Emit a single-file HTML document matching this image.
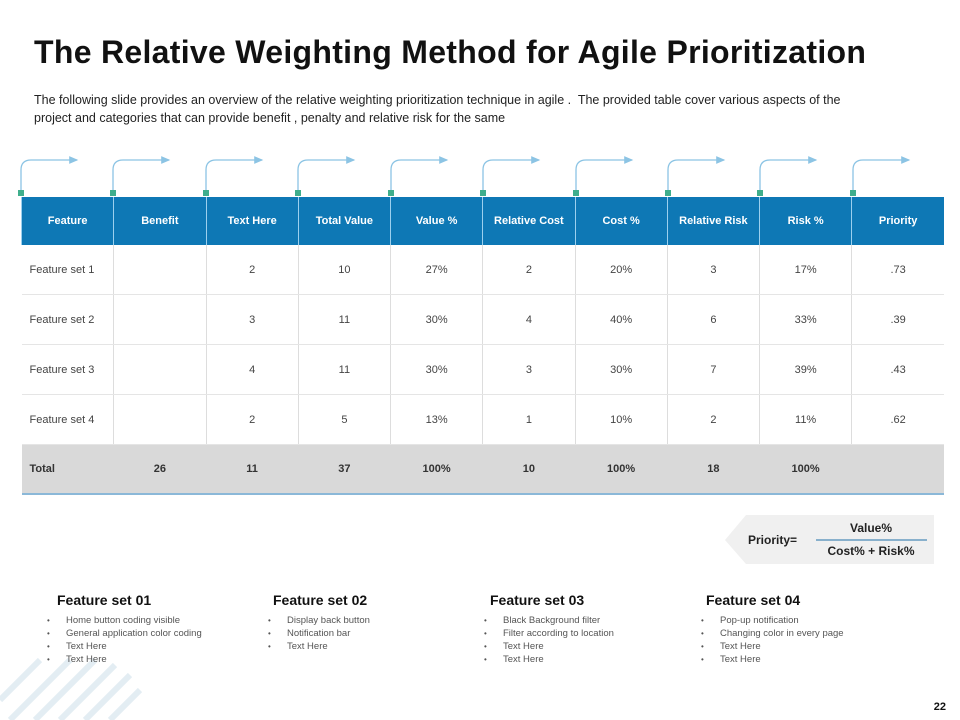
<!DOCTYPE html>
<html><head><style>
body{margin:0;width:960px;height:720px;background:#fff;position:relative;overflow:hidden;font-family:"Liberation Sans",sans-serif;}
.t{position:absolute;left:34px;top:34px;font-size:32px;font-weight:bold;color:#111;letter-spacing:0.3px;}
.s{position:absolute;left:34px;top:91px;font-size:12.5px;line-height:18px;color:#222;width:880px;}
table{position:absolute;left:21px;top:197px;border-collapse:collapse;width:923px;table-layout:fixed;}
td{text-align:center;font-size:11px;color:#444;border-left:1px solid #ddd;border-bottom:1px solid #e5e5e5;padding:0;}
tr.h td{background:#0e78b5;color:#fff;font-weight:bold;height:48px;border-left:1px solid #9cd0ee;border-bottom:none;}
tr.r td{height:49px;}
tr.r td:first-child{text-align:left;padding-left:8px;}
tr.tot td{background:#d9d9d9;font-weight:bold;color:#333;height:48px;border-left:none;border-bottom:2px solid #8bb8d8;}
tr.tot td:first-child{text-align:left;padding-left:8px;}
td:first-child{border-left:none}
.fs{position:absolute;top:592px;font-size:14px;font-weight:bold;color:#111;}
.ul{position:absolute;top:614px;font-size:9.5px;line-height:13px;color:#555;margin:0;padding:0;list-style:none;}
.ul li:before{content:"•";position:absolute;left:-19px;font-size:8px;}
.ul li{position:relative}
</style></head><body>
<div class="t">The Relative Weighting Method for Agile Prioritization</div>
<div class="s">The following slide provides an overview of the relative weighting prioritization technique in agile .&nbsp; The provided table cover various aspects of the<br>project and categories that can provide benefit , penalty and relative risk for the same</div>
<svg width="960" height="720" style="position:absolute;left:0;top:0">
<defs><marker id="a" markerWidth="8" markerHeight="8" refX="6" refY="3" orient="auto"><path d="M0,0L7,3L0,6z" fill="#8cc4e4"/></marker></defs>
<g stroke="#8cc4e4" stroke-width="1.3" fill="none">
<path d="M21,193V170Q21,160 31,160H77" marker-end="url(#a)"/>
<path d="M113,193V170Q113,160 123,160H169" marker-end="url(#a)"/>
<path d="M206,193V170Q206,160 216,160H262" marker-end="url(#a)"/>
<path d="M298,193V170Q298,160 308,160H354" marker-end="url(#a)"/>
<path d="M391,193V170Q391,160 401,160H447" marker-end="url(#a)"/>
<path d="M483,193V170Q483,160 493,160H539" marker-end="url(#a)"/>
<path d="M576,193V170Q576,160 586,160H632" marker-end="url(#a)"/>
<path d="M668,193V170Q668,160 678,160H724" marker-end="url(#a)"/>
<path d="M760,193V170Q760,160 770,160H816" marker-end="url(#a)"/>
<path d="M853,193V170Q853,160 863,160H909" marker-end="url(#a)"/>
</g>
<g fill="#3fae8c">
<rect x="18" y="190" width="6" height="6"/><rect x="110" y="190" width="6" height="6"/><rect x="203" y="190" width="6" height="6"/><rect x="295" y="190" width="6" height="6"/><rect x="388" y="190" width="6" height="6"/><rect x="480" y="190" width="6" height="6"/><rect x="573" y="190" width="6" height="6"/><rect x="665" y="190" width="6" height="6"/><rect x="757" y="190" width="6" height="6"/><rect x="850" y="190" width="6" height="6"/>
</g>
<path d="M746,515H934V564H746L725,540Z" fill="#f0f0f0"/>
<line x1="816" y1="540" x2="927" y2="540" stroke="#1f6fa8" stroke-width="1"/>
<text x="748" y="544" font-size="12" font-weight="bold" fill="#222" font-family="Liberation Sans">Priority=</text>
<text x="871" y="532" font-size="12" font-weight="bold" fill="#222" text-anchor="middle" font-family="Liberation Sans">Value%</text>
<text x="871" y="555" font-size="12" font-weight="bold" fill="#222" text-anchor="middle" font-family="Liberation Sans">Cost% + Risk%</text>
<g stroke="#e3edf3" stroke-width="6">
<line x1="0" y1="700" x2="40" y2="660"/><line x1="10" y1="720" x2="70" y2="660"/><line x1="35" y1="720" x2="95" y2="660"/><line x1="60" y1="720" x2="115" y2="665"/><line x1="85" y1="720" x2="130" y2="675"/><line x1="110" y1="720" x2="140" y2="690"/>
</g>
<text x="946" y="710" font-size="11" font-weight="bold" fill="#111" text-anchor="end" font-family="Liberation Sans">22</text>
</svg>
<table>
<tr class="h"><td>Feature</td><td>Benefit</td><td>Text Here</td><td>Total Value</td><td>Value %</td><td>Relative Cost</td><td>Cost %</td><td>Relative Risk</td><td>Risk %</td><td>Priority</td></tr>
<tr class="r"><td>Feature set 1</td><td></td><td>2</td><td>10</td><td>27%</td><td>2</td><td>20%</td><td>3</td><td>17%</td><td>.73</td></tr>
<tr class="r"><td>Feature set 2</td><td></td><td>3</td><td>11</td><td>30%</td><td>4</td><td>40%</td><td>6</td><td>33%</td><td>.39</td></tr>
<tr class="r"><td>Feature set 3</td><td></td><td>4</td><td>11</td><td>30%</td><td>3</td><td>30%</td><td>7</td><td>39%</td><td>.43</td></tr>
<tr class="r"><td>Feature set 4</td><td></td><td>2</td><td>5</td><td>13%</td><td>1</td><td>10%</td><td>2</td><td>11%</td><td>.62</td></tr>
<tr class="tot"><td>Total</td><td>26</td><td>11</td><td>37</td><td>100%</td><td>10</td><td>100%</td><td>18</td><td>100%</td><td></td></tr>
</table>
<div class="fs" style="left:57px">Feature set 01</div>
<div class="fs" style="left:273px">Feature set 02</div>
<div class="fs" style="left:490px">Feature set 03</div>
<div class="fs" style="left:706px">Feature set 04</div>
<ul class="ul" style="left:66px"><li>Home button coding visible</li><li>General application color coding</li><li>Text Here</li><li>Text Here</li></ul>
<ul class="ul" style="left:287px"><li>Display back button</li><li>Notification bar</li><li>Text Here</li></ul>
<ul class="ul" style="left:503px"><li>Black Background filter</li><li>Filter according to location</li><li>Text Here</li><li>Text Here</li></ul>
<ul class="ul" style="left:720px"><li>Pop-up notification</li><li>Changing color in every page</li><li>Text Here</li><li>Text Here</li></ul>
</body></html>
